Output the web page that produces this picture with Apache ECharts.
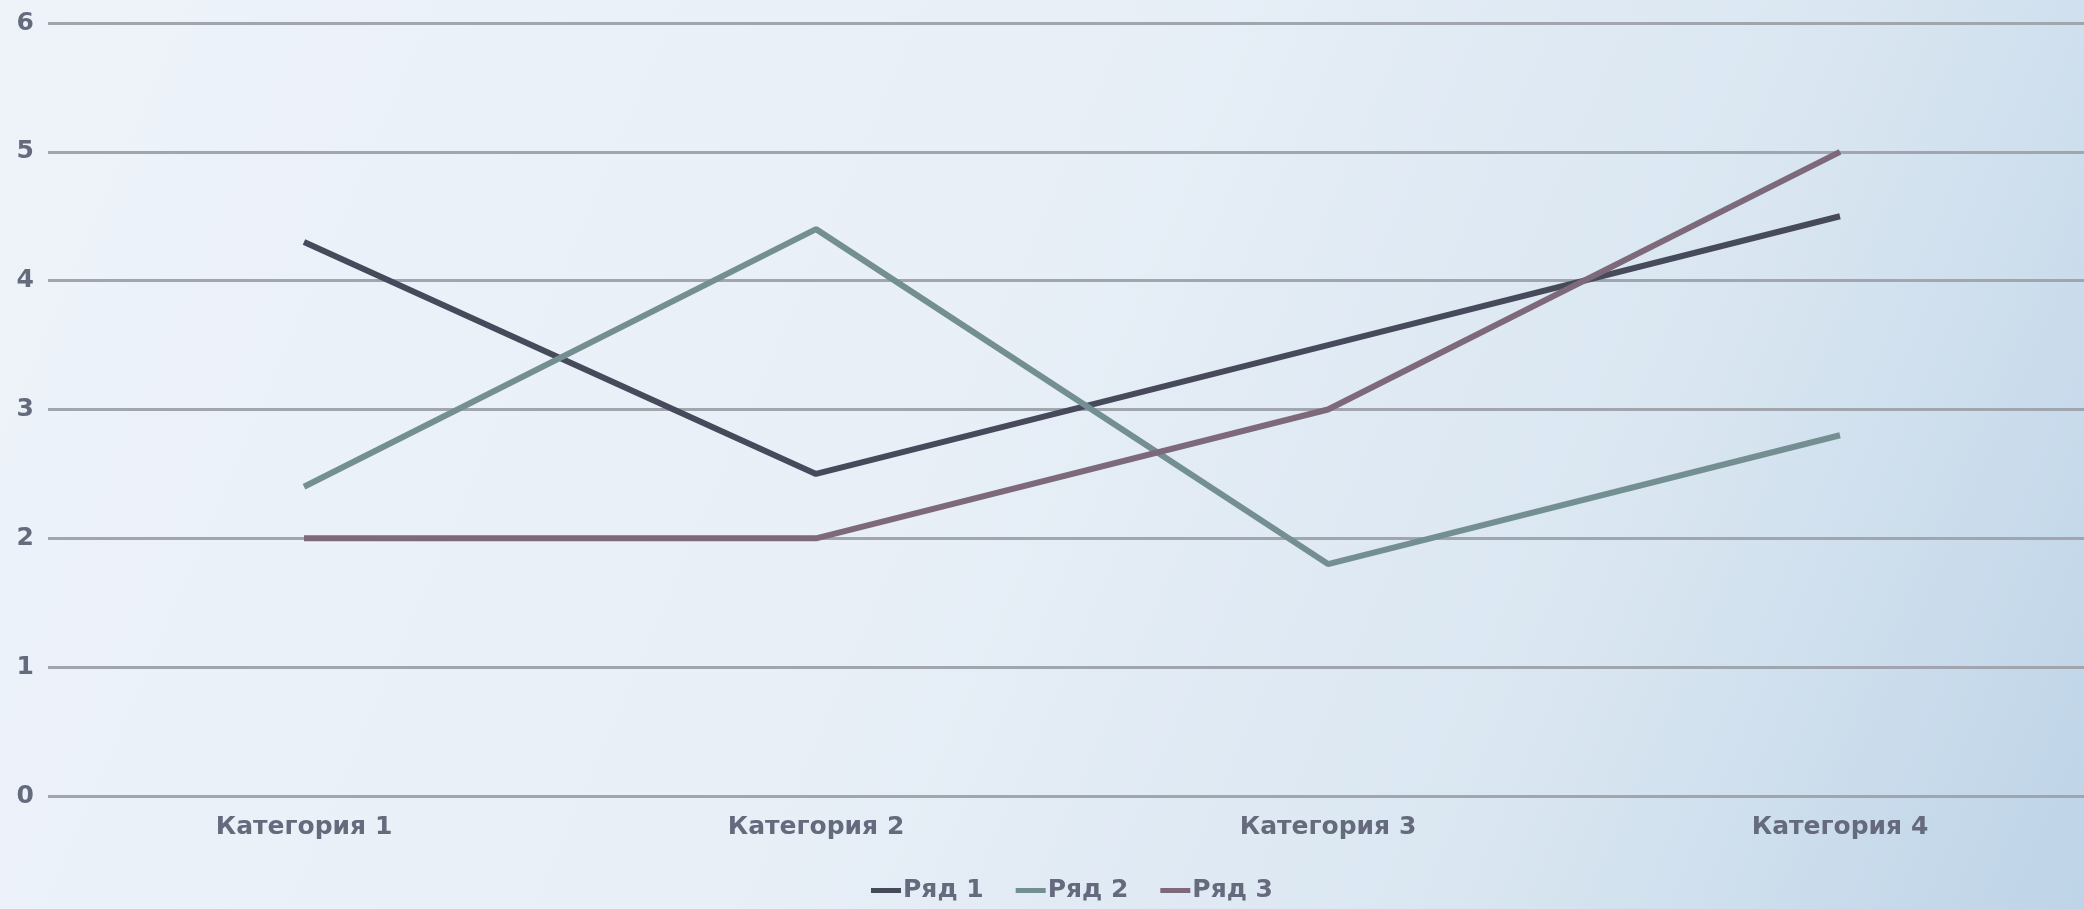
<!DOCTYPE html>
<html>
<head>
<meta charset="utf-8">
<script src="https://cdn.jsdelivr.net/npm/echarts@6/dist/echarts.min.js"></script>
<style>
  html, body { margin: 0; padding: 0; overflow: hidden; }
  #main { width: 2100px; height: 909px; }
</style>
</head>
<body>
<div id="main"></div>
<script>
var categories = ["Категория 1", "Категория 2", "Категория 3", "Категория 4"];
var seriesNames = ["Ряд 1", "Ряд 2", "Ряд 3"];
var row1 = [4.3, 2.5, 3.5, 4.5];
var row2 = [2.4, 4.4, 1.8, 2.8];
var row3 = [2, 2, 3, 5];
var colors = ["#474a5b", "#738f91", "#7d6979"];

var labelColor = "#656a7d";
var labelFont = "DejaVu Sans";
var chart = echarts.init(document.getElementById("main"));

function lineSeries(name, data, color) {
  return {
    name: name,
    type: "line",
    data: data,
    symbol: "none",
    color: color,
    lineStyle: { width: 6, color: color },
    animation: false
  };
}

chart.setOption({
  backgroundColor: {
    type: "linear", x: 0, y: 0, x2: 1, y2: 1,
    colorStops: [
      { offset: 0, color: "#eef3fa" },
      { offset: 0.45, color: "#e8eff7" },
      { offset: 0.75, color: "#d9e6f1" },
      { offset: 1, color: "#bdd3e7" }
    ]
  },
  grid: { left: 48, right: 4, top: 23, bottom: 113, containLabel: false },
  legend: {
    data: seriesNames,
    left: 866,
    top: 873,
    itemWidth: 30,
    itemHeight: 5,
    itemGap: 32,
    icon: "rect",
    textStyle: { color: labelColor, fontSize: 25, fontWeight: "bold", fontFamily: labelFont, padding: [0, 0, 0, -3] }
  },
  xAxis: {
    type: "category",
    data: categories,
    boundaryGap: true,
    axisLine: { show: false },
    axisTick: { show: false },
    axisLabel: { color: labelColor, fontSize: 25, fontWeight: "bold", fontFamily: labelFont, margin: 19 }
  },
  yAxis: {
    type: "value",
    min: 0,
    max: 6,
    interval: 1,
    axisLine: { show: false },
    axisTick: { show: false },
    axisLabel: { color: labelColor, fontSize: 25, fontWeight: "bold", fontFamily: labelFont, margin: 14 },
    splitLine: { lineStyle: { color: "#a0a5ae", width: 3 } }
  },
  series: [
    lineSeries(seriesNames[0], row1, colors[0]),
    lineSeries(seriesNames[1], row2, colors[1]),
    lineSeries(seriesNames[2], row3, colors[2])
  ]
});
</script>
</body>
</html>
